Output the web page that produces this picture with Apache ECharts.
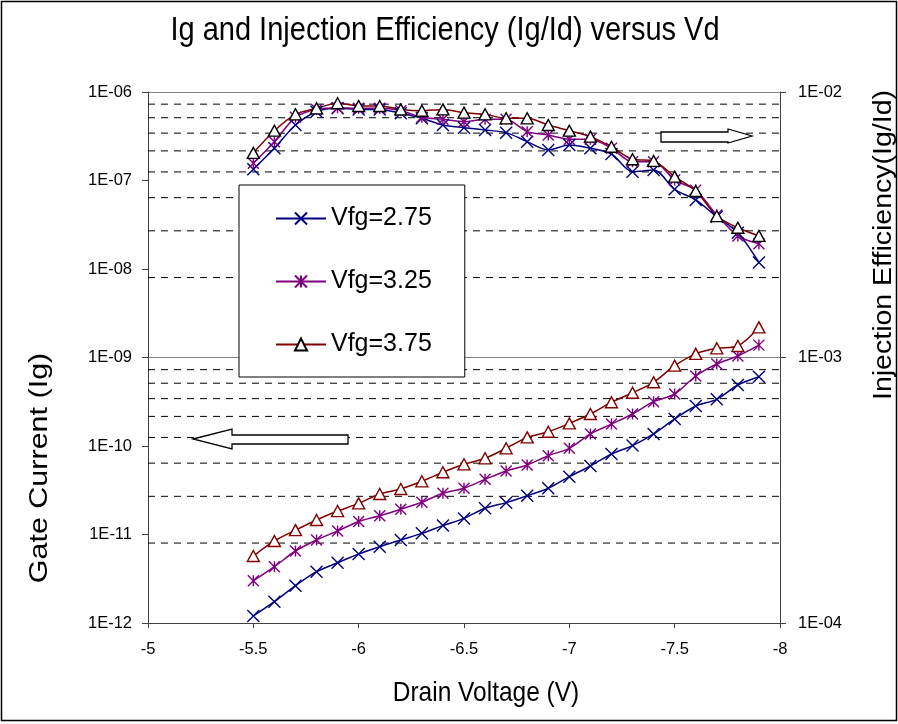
<!DOCTYPE html>
<html>
<head>
<meta charset="utf-8">
<script src="https://cdn.jsdelivr.net/npm/echarts@6/dist/echarts.min.js"></script>
<style>
html,body{margin:0;padding:0;background:#fff;}
#chart{width:898px;height:724px;}
</style>
</head>
<body>
<div id="chart"></div>
<script>
// ---- data ----
const drainVoltage = [-5.5,-5.6,-5.7,-5.8,-5.9,-6.0,-6.1,-6.2,-6.3,-6.4,-6.5,-6.6,-6.7,-6.8,-6.9,-7.0,-7.1,-7.2,-7.3,-7.4,-7.5,-7.6,-7.7,-7.8,-7.9];
const seriesNames = ['Vfg=2.75','Vfg=3.25','Vfg=3.75'];
// Gate current Ig (left axis)
const ig275 = [1.2e-12,1.74e-12,2.64e-12,3.8e-12,4.8e-12,6.02e-12,7.28e-12,8.67e-12,1.03e-11,1.26e-11,1.52e-11,1.98e-11,2.29e-11,2.74e-11,3.33e-11,4.5e-11,5.94e-11,8.12e-11,1.01e-10,1.37e-10,2.02e-10,2.83e-10,3.37e-10,4.89e-10,6.07e-10];
const ig325 = [3.0e-12,4.33e-12,6.51e-12,8.67e-12,1.095e-11,1.40e-11,1.63e-11,1.93e-11,2.31e-11,2.92e-11,3.33e-11,4.2e-11,5.22e-11,6.10e-11,7.77e-11,9.42e-11,1.37e-10,1.77e-10,2.30e-10,3.17e-10,3.87e-10,6.18e-10,8.45e-10,1.04e-9,1.38e-9];
const ig375 = [5.71e-12,8.45e-12,1.12e-11,1.46e-11,1.84e-11,2.25e-11,2.87e-11,3.27e-11,3.99e-11,5.05e-11,6.21e-11,7.26e-11,9.42e-11,1.25e-10,1.45e-10,1.80e-10,2.30e-10,3.12e-10,4.0e-10,5.25e-10,8.08e-10,1.10e-9,1.27e-9,1.35e-9,2.19e-9];
// Injection efficiency Ig/Id (right axis)
const eff275 = [5.12e-3,6.14e-3,7.51e-3,8.43e-3,8.68e-3,8.6e-3,8.6e-3,8.31e-3,7.96e-3,7.51e-3,7.34e-3,7.19e-3,7.03e-3,6.5e-3,6.05e-3,6.31e-3,6.14e-3,5.84e-3,5.01e-3,5.08e-3,4.30e-3,3.92e-3,3.39e-3,2.95e-3,2.28e-3];
const eff325 = [5.39e-3,6.5e-3,8.03e-3,8.6e-3,8.73e-3,8.68e-3,8.68e-3,8.5e-3,8.03e-3,7.89e-3,7.73e-3,7.9e-3,7.89e-3,7.09e-3,6.89e-3,6.64e-3,6.64e-3,6.14e-3,5.46e-3,5.46e-3,4.66e-3,4.27e-3,3.44e-3,2.87e-3,2.68e-3];
const eff375 = [5.9e-3,7.15e-3,8.24e-3,8.68e-3,9.07e-3,8.86e-3,8.86e-3,8.6e-3,8.5e-3,8.6e-3,8.36e-3,8.24e-3,7.96e-3,7.96e-3,7.51e-3,7.15e-3,6.79e-3,6.22e-3,5.58e-3,5.5e-3,4.8e-3,4.24e-3,3.41e-3,3.08e-3,2.87e-3];
// axis ranges / ticks
const xTicks = [-8,-7.5,-7,-6.5,-6,-5.5,-5];
const leftRange = [1e-12, 1e-6];
const rightRange = [1e-4, 1e-2];
const rightMinorGrid = [2e-4,3e-4,4e-4,5e-4,6e-4,7e-4,8e-4,9e-4,2e-3,3e-3,4e-3,5e-3,6e-3,7e-3,8e-3,9e-3];

const FONT = '"Liberation Sans", Arial, sans-serif';
const colors = ['#000080','#800080','#800000'];
const symX = 'path://M0,0L10,10M0,10L10,0';
const symAst = 'path://M0,0L10,10M0,10L10,0M5,0L5,10';

function expLabel(v){
  const e = Math.round(Math.log10(v));
  return '1E' + (e < 0 ? '-' : '+') + String(Math.abs(e)).padStart(2,'0');
}
function pairs(ys){ return drainVoltage.map((x,i)=>[x, ys[i]]); }

function mkSeries(name, data, yIdx, color, symbol, size, fill, border){
  return {
    name: name, type: 'line', xAxisIndex: 0, yAxisIndex: yIdx,
    data: pairs(data), smooth: 0.3, showSymbol: true, showAllSymbol: true,
    symbol: symbol, symbolSize: size,
    lineStyle: {color: color, width: 1.5},
    itemStyle: {color: fill, borderColor: border, borderWidth: 1.4},
    emphasis: {disabled: true}, silent: true, z: 3
  };
}

// dashed minor grid lines at the right axis' 2..9 positions, placed through the right log axis
const gridSeries = rightMinorGrid.map(v => ({
  type: 'line', yAxisIndex: 1, xAxisIndex: 0,
  data: [[xTicks[xTicks.length-1], v], [xTicks[0], v]],
  symbol: 'none', silent: true, z: 1,
  lineStyle: {color: '#000', type: [7,6], width: 1},
  emphasis: {disabled: true}, tooltip: {show: false}
}));

const series = gridSeries.concat([
  mkSeries(seriesNames[0], eff275, 1, colors[0], symX, 12, colors[0], colors[0]),
  mkSeries(seriesNames[1], eff325, 1, colors[1], symAst, 11, colors[1], colors[1]),
  mkSeries(seriesNames[2], eff375, 1, colors[2], 'triangle', [12,11], '#fff', '#000'),
  mkSeries(seriesNames[0], ig275, 0, colors[0], symX, 12, colors[0], colors[0]),
  mkSeries(seriesNames[1], ig325, 0, colors[1], symAst, 11, colors[1], colors[1]),
  mkSeries(seriesNames[2], ig375, 0, colors[2], 'triangle', [12,11], '#fff', colors[2])
]);

const chart = echarts.init(document.getElementById('chart'), null, {renderer: 'canvas'});
const axisColor = '#404040';
chart.setOption({
  animation: false,
  backgroundColor: '#fff',
  textStyle: {fontFamily: FONT},
  grid: {left: 148, right: 118, top: 92, bottom: 101},
  legend: {
    orient: 'vertical', left: 239, top: 185,
    padding: [21, 33, 20, 36], itemGap: 38, itemWidth: 50, itemHeight: 15,
    backgroundColor: '#fff', borderColor: '#000', borderWidth: 1,
    selectedMode: false, z: 5,
    textStyle: {fontSize: 25, fontFamily: FONT, color: '#000'},
    data: seriesNames
  },
  xAxis: {
    type: 'value', min: xTicks[0], max: xTicks[xTicks.length-1], interval: 0.5, inverse: true,
    axisLine: {show: true, onZero: false, lineStyle: {color: axisColor, width: 1}},
    axisTick: {show: true, length: 5, lineStyle: {color: axisColor}},
    axisLabel: {margin: 18, fontSize: 16.5, color: '#000', fontFamily: FONT},
    splitLine: {show: false}
  },
  yAxis: [
    {
      type: 'log', logBase: 10, min: leftRange[0], max: leftRange[1], position: 'left',
      axisLine: {show: true, lineStyle: {color: axisColor, width: 1}},
      axisTick: {show: true, length: 6, lineStyle: {color: axisColor}},
      axisLabel: {margin: 16, fontSize: 16.5, color: '#000', fontFamily: FONT, formatter: expLabel},
      splitLine: {show: false}, minorTick: {show: false}
    },
    {
      type: 'log', logBase: 10, min: rightRange[0], max: rightRange[1], position: 'right',
      axisLine: {show: true, lineStyle: {color: axisColor, width: 1}},
      axisTick: {show: true, length: 6, lineStyle: {color: axisColor}},
      axisLabel: {margin: 18, fontSize: 16.5, color: '#000', fontFamily: FONT, formatter: expLabel},
      splitLine: {show: true, lineStyle: {color: '#808080', width: 1, type: 'solid'}}
    }
  ],
  graphic: [
    {type: 'rect', shape: {x: 1.5, y: 1.5, width: 895, height: 719}, style: {fill: 'none', stroke: '#000', lineWidth: 1.5}, z: 0, silent: true},
    {type: 'text', x: 445, y: 31, scaleY: 1.15, style: {text: 'Ig and Injection Efficiency (Ig/Id) versus Vd', fontSize: 29, fontFamily: FONT, fill: '#000', align: 'center', verticalAlign: 'middle'}, z: 10},
    {type: 'text', x: 486, y: 693, scaleY: 1.15, style: {text: 'Drain Voltage (V)', fontSize: 24.5, fontFamily: FONT, fill: '#000', align: 'center', verticalAlign: 'middle'}, z: 10},
    {type: 'text', x: 40, y: 468, rotation: Math.PI/2, scaleX: 1.22, style: {text: 'Gate Current (Ig)', fontSize: 25, fontFamily: FONT, fill: '#000', align: 'center', verticalAlign: 'middle'}, z: 10},
    {type: 'text', x: 884, y: 245, rotation: Math.PI/2, scaleX: 1.14, style: {text: 'Injection Efficiency(Ig/Id)', fontSize: 25, fontFamily: FONT, fill: '#000', align: 'center', verticalAlign: 'middle'}, z: 10},
    {type: 'polygon', shape: {points: [[193,439],[232,429],[232,435],[348,435],[348,444],[232,444],[232,449]]}, style: {fill: '#fff', stroke: '#000', lineWidth: 1.3}, z: 10},
    {type: 'polygon', shape: {points: [[661,132],[728,132],[728,129],[752,136],[728,143],[728,142],[661,142]]}, style: {fill: '#fff', stroke: '#000', lineWidth: 1.3}, z: 10}
  ],
  series: series
});
</script>
</body>
</html>
